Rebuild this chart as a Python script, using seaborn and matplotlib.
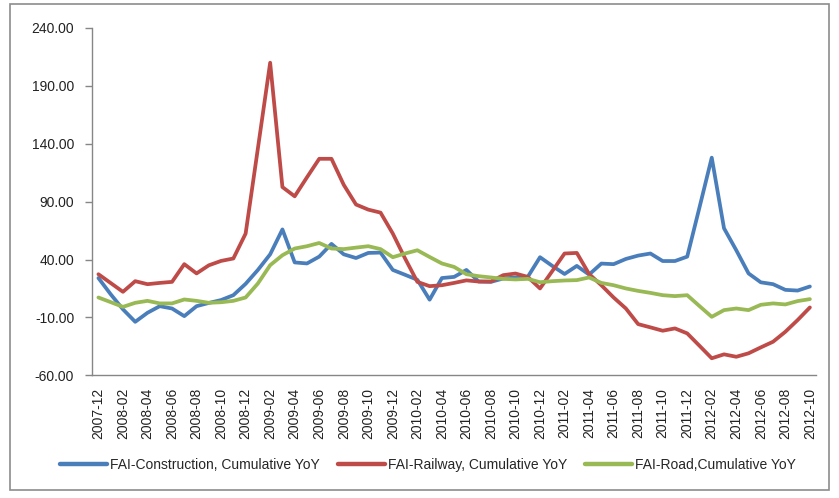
import numpy as np
import pandas as pd
import matplotlib
matplotlib.use("Agg")
import matplotlib.pyplot as plt
import seaborn as sns
from matplotlib.patches import Rectangle

# ── Data ─────────────────────────────────────────────────────────────────────
months = pd.period_range("2007-12", "2012-10", freq="M").strftime("%Y-%m").tolist()

construction = [24, 10, -3, -13.8, -6, -0.3, -2.3, -8.9, -0.3, 2.5,
                5, 9.2, 19, 31, 44.5, 66, 37.5, 36.6, 42.5, 53.5,
                44.5, 41.3, 45.7, 46, 31, 26.8, 22.5, 5.3, 24, 25,
                31, 21, 20.7, 23.6, 24.5, 25, 42, 34.5, 27.5, 34.5,
                27, 36.5, 36, 40.5, 43.4, 45.2, 38.7, 38.7, 42.5, 85,
                128, 67, 48, 28, 20.3, 18.7, 13.8, 13.2, 16.7]

railway = [27.3, 19.7, 12.1, 21.3, 18.7, 19.8, 20.7, 36, 28, 35,
           38.8, 40.9, 62.4, 136, 210, 102.6, 94.6, 111, 127, 127,
           104.5, 87.5, 83.1, 80.5, 62.4, 40.9, 20.7, 17, 17.8, 19.8,
           22, 21, 21, 26.5, 27.9, 25, 15, 30, 45.2, 45.7,
           27.5, 17.8, 7.2, -2.3, -15.8, -18.6, -21.5, -19.5, -23.8, -34.5,
           -45.3, -41.9, -44, -41, -35.9, -31, -22.4, -12.3, -1.4]

road = [7.2, 3.2, -0.9, 2.6, 4.3, 2.1, 2.1, 5.5, 4.3, 2.6,
        3.1, 4.3, 7.2, 19.3, 35.1, 43.7, 49.5, 51.5, 54.3, 49.5,
        49, 50.3, 51.5, 49, 42, 45.2, 48, 42.2, 36.6, 33.6,
        27.3, 25.6, 24.5, 23.3, 22.8, 23.3, 20.4, 21.3, 21.9, 22.2,
        24.5, 19.8, 17.8, 15, 12.9, 11.2, 9.2, 8.4, 9.2, -0.2,
        -9.5, -3.7, -2.3, -3.7, 0.9, 2.1, 1.2, 4.1, 5.8]

series_names = ["FAI-Construction, Cumulative YoY",
                "FAI-Railway, Cumulative YoY",
                "FAI-Road,Cumulative YoY"]
colors = ["#4A7EBB", "#BE4B48", "#98B954"]
y_ticks = [-60, -10, 40, 90, 140, 190, 240]

# ── Long-form frame for seaborn ──────────────────────────────────────────────
x_idx = np.arange(len(months))
df = pd.concat([
    pd.DataFrame({"idx": x_idx, "value": vals, "series": name})
    for name, vals in zip(series_names, [construction, railway, road])
], ignore_index=True)

# ── Figure ───────────────────────────────────────────────────────────────────
sns.set_theme(style="white")
plt.rcParams["font.family"] = ["Liberation Sans", "DejaVu Sans"]

fig = plt.figure(figsize=(8.39, 4.98), dpi=100)
ax = fig.add_axes([0.110, 0.2464, 0.8626, 0.6974])

sns.lineplot(data=df, x="idx", y="value", hue="series", hue_order=series_names,
             palette=colors, linewidth=2.7, ax=ax, legend=False, sort=False)

axis_grey = "#868686"
ax.set_xlim(-0.5, len(months) - 0.5)
ax.set_ylim(-60, 240)
ax.set_yticks(y_ticks)
ax.set_yticklabels([f"{v:.2f}" for v in y_ticks], fontsize=10, color="#222222")

# category labels every 2 months, tick marks at category boundaries
ax.set_xticks(x_idx[::2])
ax.set_xticklabels(months[::2], rotation=90, fontsize=10, color="#222222")
ax.set_xticks(np.arange(-0.5, len(months), 2), minor=True)
ax.tick_params(axis="x", which="major", length=0, pad=9)
ax.tick_params(axis="x", which="minor", length=5, width=1, color=axis_grey, direction="out")
ax.tick_params(axis="y", length=5, width=1, color=axis_grey, direction="out", pad=8, left=True)

ax.set_xlabel("")
ax.set_ylabel("")
for side in ["top", "right"]:
    ax.spines[side].set_visible(False)
for side in ["left", "bottom"]:
    ax.spines[side].set_color(axis_grey)
    ax.spines[side].set_linewidth(1)
ax.grid(False)

# legend along the bottom
handles = [plt.Line2D([], [], color=c, linewidth=3.2) for c in colors]
fig.legend(handles, series_names, loc="center", bbox_to_anchor=(0.51, 0.066),
           ncol=3, frameon=False, fontsize=10, handlelength=3.4,
           handletextpad=0.2, columnspacing=1.3)

# outer chart frame
fig.patches.append(Rectangle((10 / 839, 8 / 498), 819 / 839, 486 / 498,
                             transform=fig.transFigure, fill=False,
                             edgecolor="#8C8C8C", linewidth=1.2))

fig.savefig("out.png", dpi=100)
plt.close(fig)
